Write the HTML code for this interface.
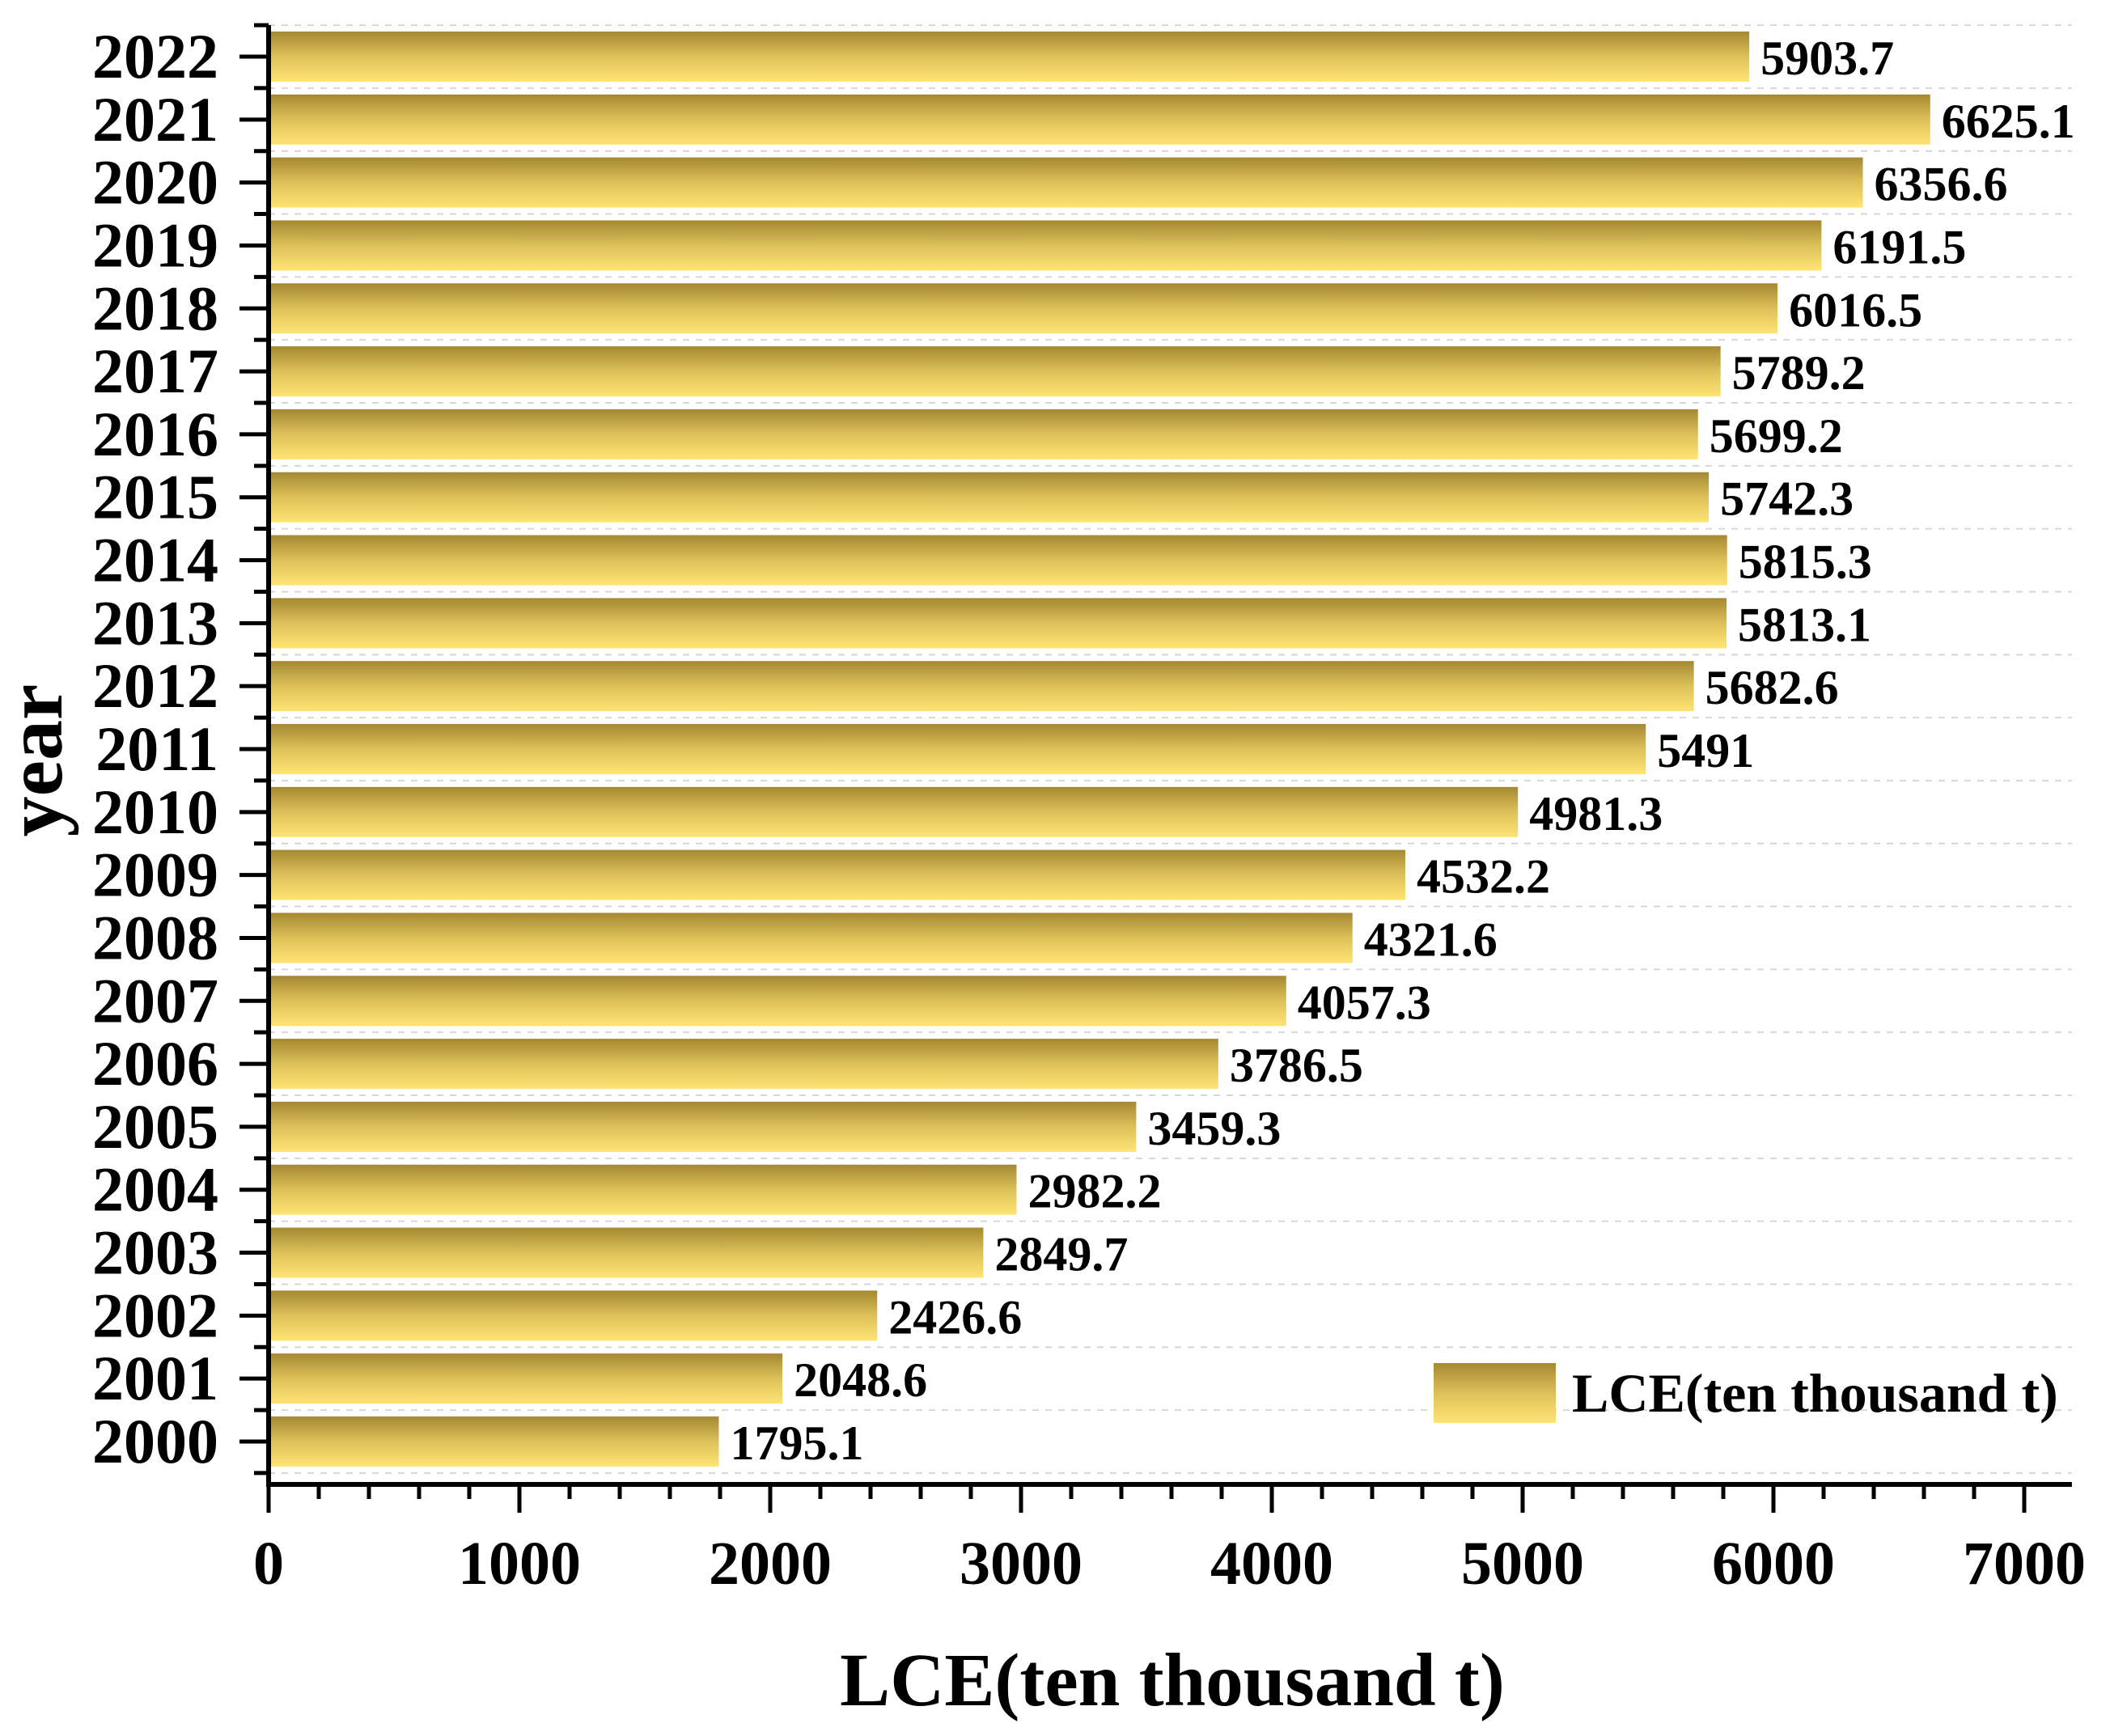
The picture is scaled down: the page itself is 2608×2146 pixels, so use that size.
<!DOCTYPE html>
<html><head><meta charset="utf-8"><style>
html,body{margin:0;padding:0;background:#fff;}
svg{display:block;font-family:"Liberation Serif",serif;font-weight:bold;}
</style></head><body>
<svg id="chart" width="2608" height="2146" viewBox="0 0 2608 2146">
<defs>
<linearGradient id="gold" x1="0" y1="0" x2="0" y2="1">
<stop offset="0" stop-color="#a58831"/>
<stop offset="0.5" stop-color="#dcc15a"/>
<stop offset="1" stop-color="#ffe473"/>
</linearGradient>
</defs>
<g id="grid"></g>
<g id="bars"></g>
<g id="axes"></g>
<g id="legend">
<rect x="1772" y="1685" width="151" height="74" fill="url(#gold)"/>
<text x="1943" y="1745" font-size="68">LCE(ten thousand t)</text>
</g>
<text x="1449" y="2108" font-size="93" text-anchor="middle">LCE(ten thousand t)</text>
<text x="0" y="0" font-size="100" text-anchor="middle" transform="translate(76,940) rotate(-90)">year</text>
</svg>
<script>
const years = ["2022","2021","2020","2019","2018","2017","2016","2015","2014","2013","2012","2011","2010","2009","2008","2007","2006","2005","2004","2003","2002","2001","2000"];
const values = [5903.7,6625.1,6356.6,6191.5,6016.5,5789.2,5699.2,5742.3,5815.3,5813.1,5682.6,5491,4981.3,4532.2,4321.6,4057.3,3786.5,3459.3,2982.2,2849.7,2426.6,2048.6,1795.1];
const valueLabels = ["5903.7","6625.1","6356.6","6191.5","6016.5","5789.2","5699.2","5742.3","5815.3","5813.1","5682.6","5491","4981.3","4532.2","4321.6","4057.3","3786.5","3459.3","2982.2","2849.7","2426.6","2048.6","1795.1"];
const xTicks = [0,1000,2000,3000,4000,5000,6000,7000];
const xMax = 7190;

const NS = "http://www.w3.org/2000/svg";
const X0 = 332, X1 = 2502, Y0 = 70, Y1 = 1782, AXY = 1835, AXTOP = 31;
const xs = v => X0 + (v / 7000) * (X1 - X0);
const step = (Y1 - Y0) / (years.length - 1);
const ys = i => Y0 + i * step;
function mk(tag, attrs, parent) {
  const e = document.createElementNS(NS, tag);
  for (const k in attrs) e.setAttribute(k, attrs[k]);
  parent.appendChild(e);
  return e;
}
const grid = document.getElementById('grid');
const bars = document.getElementById('bars');
const axes = document.getElementById('axes');
const bh = 62;
for (let i = 0; i <= years.length; i++) {
  const y = ys(i) - step / 2;
  const g = mk('line', {x1: X0, x2: xs(xMax), y1: y, y2: y, stroke: '#d4d6dc', 'stroke-width': 2, 'stroke-dasharray': '8 8'}, grid);
  
  
  const mt = mk('line', {x1: X0 - 18, x2: X0, y1: y, y2: y, stroke: '#000', 'stroke-width': 5}, axes);
  
  
}
years.forEach((yr, i) => {
  const y = ys(i);
  const r = mk('rect', {x: X0, y: y - bh / 2, width: xs(values[i]) - X0, height: bh, fill: 'url(#gold)'}, bars);
  
  
  const t = mk('text', {x: xs(values[i]) + 14, y: y + 22, 'font-size': 60}, bars);
  t.textContent = valueLabels[i];
  
  
  const tk = mk('line', {x1: X0 - 36, x2: X0, y1: y, y2: y, stroke: '#000', 'stroke-width': 5}, axes);
  
  
  const yl = mk('text', {x: 270, y: y + 26, 'font-size': 78, 'text-anchor': 'end'}, axes);
  yl.textContent = yr;
  
  
});
const ya = mk('line', {x1: X0, x2: X0, y1: AXTOP, y2: AXY + 2, stroke: '#000', 'stroke-width': 6}, axes);


const xa = mk('line', {x1: X0 - 3, x2: xs(xMax), y1: AXY, y2: AXY, stroke: '#000', 'stroke-width': 6}, axes);


for (let v = 200; v <= xMax; v += 200) {
  if (v % 1000 === 0) continue;
  const m = mk('line', {x1: xs(v), x2: xs(v), y1: AXY, y2: AXY + 18, stroke: '#000', 'stroke-width': 5}, axes);
  
  
}
xTicks.forEach(v => {
  const t = mk('line', {x1: xs(v), x2: xs(v), y1: AXY, y2: AXY + 35, stroke: '#000', 'stroke-width': 5}, axes);
  
  
  const l = mk('text', {x: xs(v), y: 1958, 'font-size': 76, 'text-anchor': 'middle'}, axes);
  l.textContent = String(v);
  
  
});
</script>
</body></html>
